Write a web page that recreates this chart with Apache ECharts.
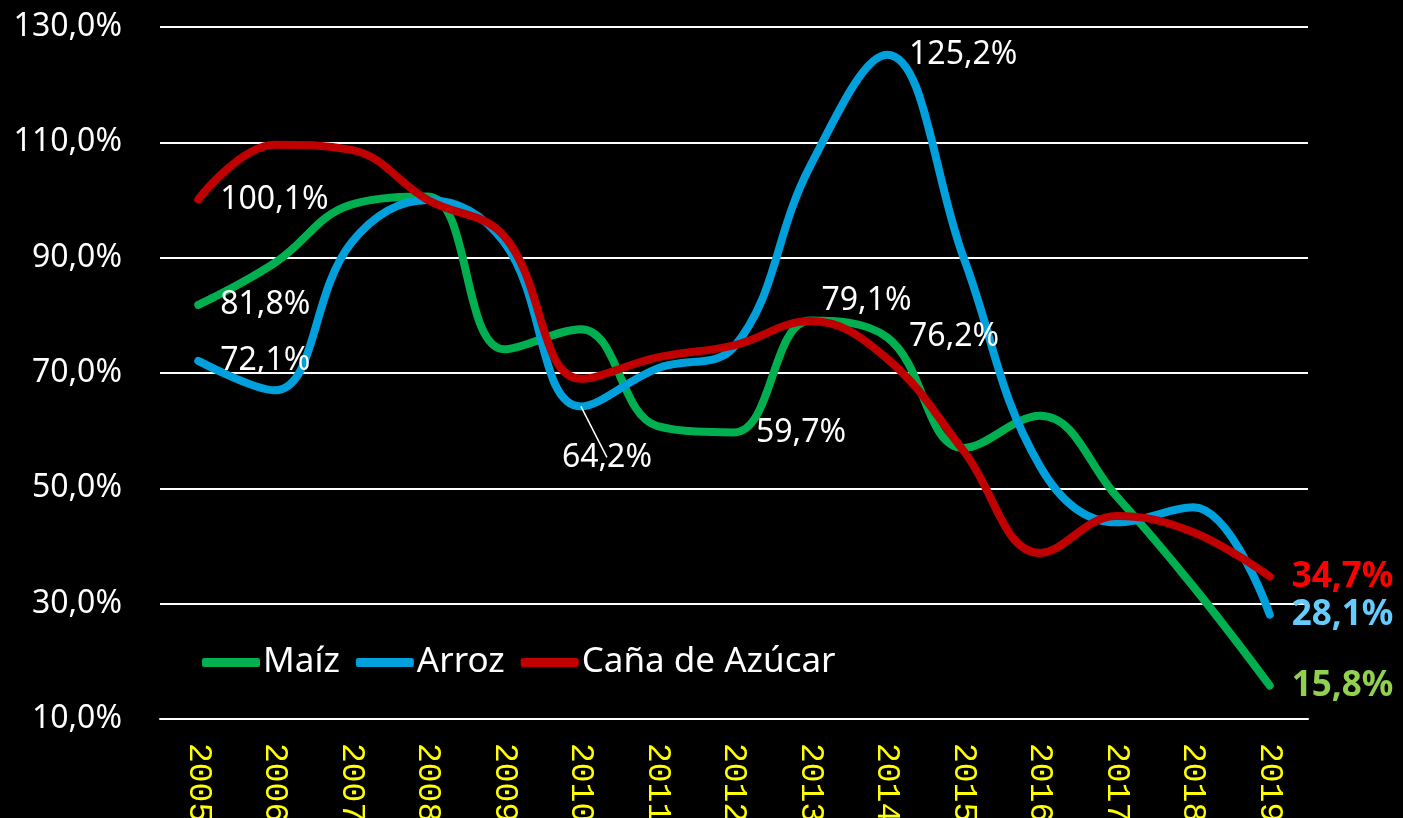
<!DOCTYPE html>
<html>
<head>
<meta charset="utf-8">
<title>Maíz, Arroz, Caña de Azúcar</title>
<script src="https://cdn.jsdelivr.net/npm/echarts@6/dist/echarts.min.js"></script>
<style>
  html, body { margin: 0; padding: 0; background: #000; }
  #chart { width: 1403px; height: 818px; }
</style>
</head>
<body>
<div id="chart"></div>
<script>
// años del eje x
const years = ['2005', '2006', '2007', '2008', '2009', '2010', '2011', '2012',
  '2013', '2014', '2015', '2016', '2017', '2018', '2019']

// valores (%)
const maiz = [81.8, 89.1, 99.2, 100.6, 74.1, 77.6, 60.8, 59.7, 79.1, 76.2, 57.0, 62.6, 48.6, 33.0, 15.8]
const arroz = [72.1, 67.0, 92.6, 100.0, 92.6, 64.2, 70.8, 74.5, 106.0, 125.2, 90.0, 53.8, 44.1, 46.7, 28.1]
const cana = [100.1, 109.6, 108.7, 100.0, 93.7, 69.0, 72.7, 74.8, 79.0, 72.5, 56.5, 38.8, 45.2, 42.4, 34.7]

// puntos con etiqueta
const maizLabels = [0, 7, 8, 9, 14]
const arrozLabels = [0, 5, 9, 14]
const canaLabels = [0, 14]

const fmt = v => v.toFixed(1).replace('.', ',') + '%'

const labelFont = { fontFamily: 'Noto Sans', fontSize: 32, color: '#fff' }
const endFont = { fontFamily: 'Noto Sans', fontSize: 35, fontWeight: 'bold' }

function labelStyle(name, i) {
  if (i === 14) {
    const colors = { maiz: '#92D050', arroz: '#66CCFF', cana: '#FF0000' }
    return { show: true, position: 'right', distance: 22, ...endFont, color: colors[name] }
  }
  if (name === 'maiz' && i === 8) {
    return { show: true, position: 'top', distance: 4, offset: [56, 0], ...labelFont }
  }
  if (name === 'arroz' && i === 5) {
    return { show: true, position: 'bottom', distance: 5, offset: [26, 30], ...labelFont }
  }
  return { show: true, position: 'right', distance: 22, ...labelFont }
}

function buildData(name, values, idx) {
  return values.map((v, i) => {
    if (!idx.includes(i)) return v
    const item = { value: v, label: labelStyle(name, i) }
    item.label.formatter = p => fmt(p.value)
    if (name === 'arroz' && i === 5) {
      item.labelLine = { show: true, smooth: false, lineStyle: { color: '#fff', width: 1.5 } }
    }
    return item
  })
}

function lineSeries(name, key, values, idx, color) {
  return {
    name,
    type: 'line',
    smooth: 0.4,
    symbol: 'circle',
    symbolSize: 0,
    showSymbol: true,
    lineStyle: { color, width: 8, cap: 'round', join: 'round' },
    itemStyle: { color },
    label: { show: false },
    data: buildData(key, values, idx),
  }
}

const chart = echarts.init(document.getElementById('chart'))
chart.setOption({
  backgroundColor: '#000',
  animation: false,
  grid: { left: 160, right: 95, top: 27, bottom: 99, outerBoundsMode: 'none', containLabel: false },
  legend: {
    left: 197,
    top: 640,
    icon: 'roundRect',
    itemWidth: 58,
    itemHeight: 9,
    itemGap: 16,
    textStyle: { color: '#fff', fontFamily: 'Noto Sans', fontSize: 35, padding: [0, 0, 0, -2] },
    data: ['Maíz', 'Arroz', 'Caña de Azúcar'],
  },
  xAxis: {
    type: 'category',
    data: years,
    boundaryGap: true,
    axisLine: { show: true, lineStyle: { color: '#fff', width: 2 } },
    axisTick: { show: false },
    axisLabel: {
      rotate: -90,
      margin: 24,
      color: '#FFFF00',
      fontFamily: 'Liberation Mono',
      fontSize: 33,
    },
  },
  yAxis: {
    type: 'value',
    min: 10,
    max: 130,
    interval: 20,
    axisLine: { show: false },
    axisTick: { show: false },
    splitLine: { lineStyle: { color: '#fff', width: 2 } },
    axisLabel: {
      margin: 38,
      color: '#fff',
      fontFamily: 'Noto Sans',
      fontSize: 32,
      formatter: v => fmt(v),
    },
  },
  series: [
    lineSeries('Maíz', 'maiz', maiz, maizLabels, '#00B050'),
    lineSeries('Arroz', 'arroz', arroz, arrozLabels, '#00A0DC'),
    lineSeries('Caña de Azúcar', 'cana', cana, canaLabels, '#C00000'),
  ],
})
</script>
</body>
</html>
